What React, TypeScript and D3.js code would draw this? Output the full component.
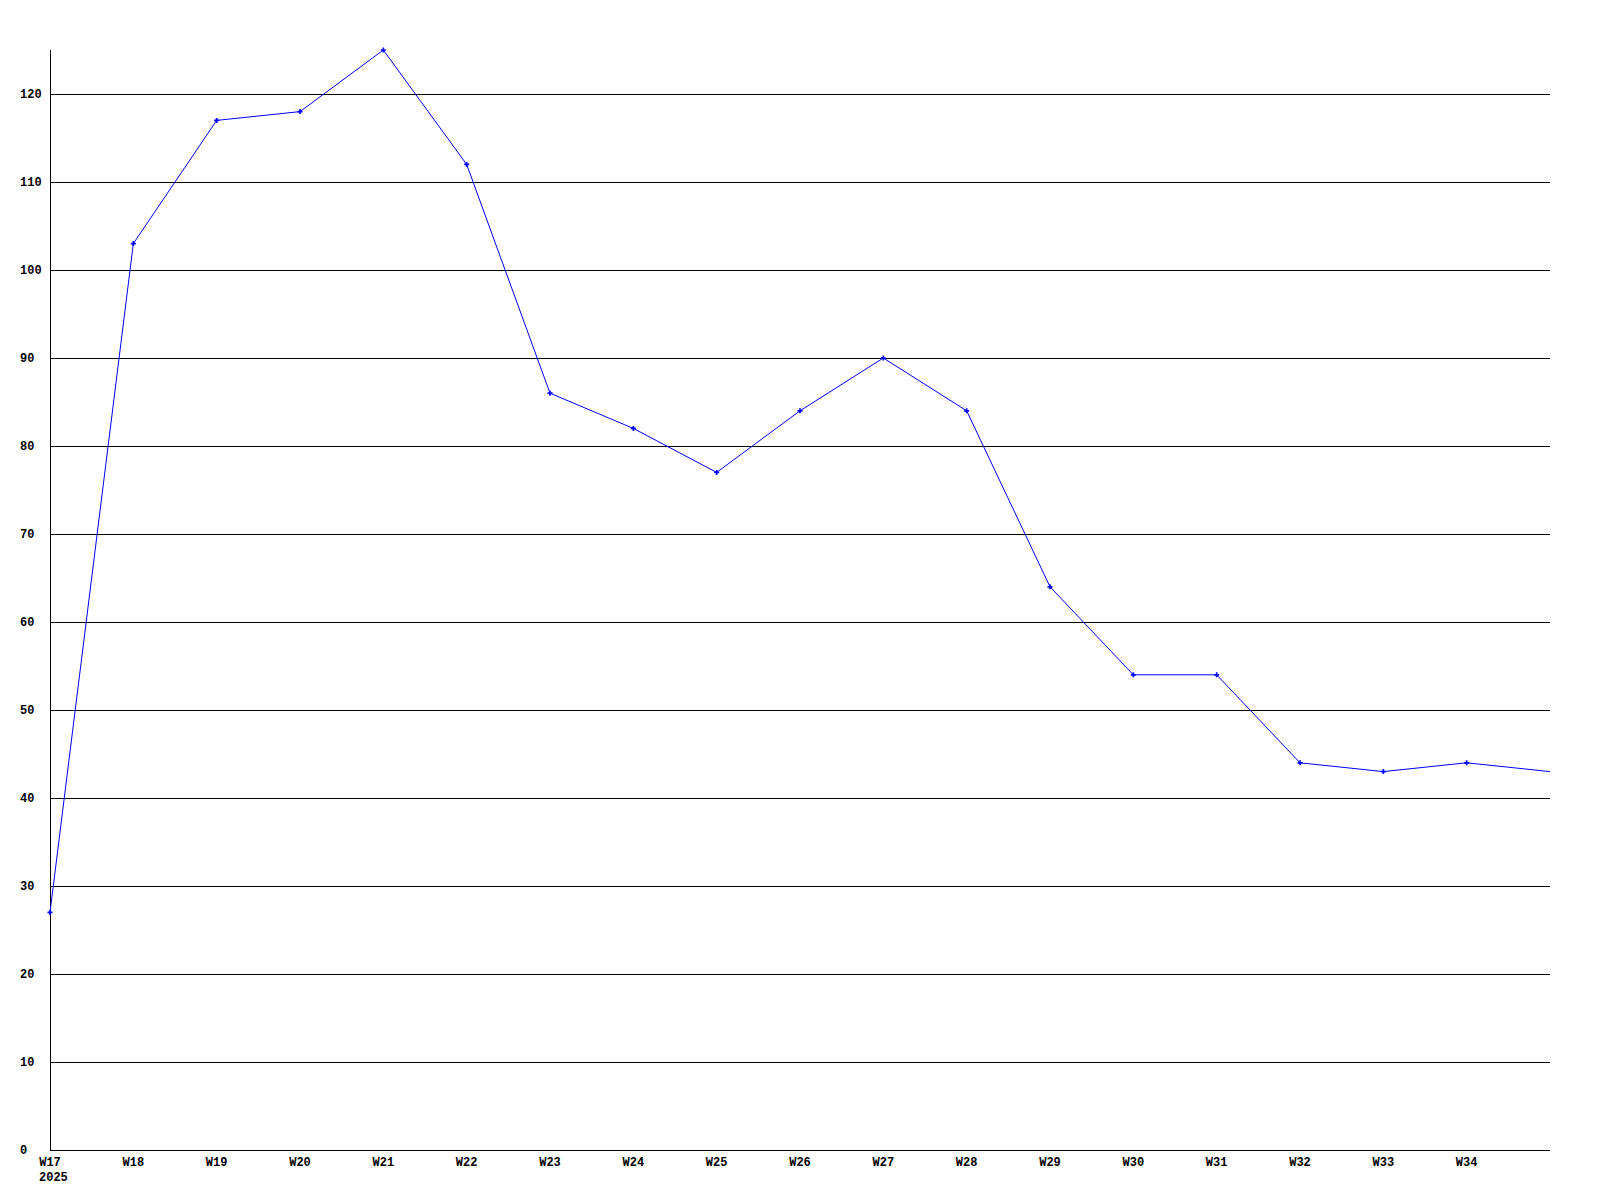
import React, { useRef, useEffect } from "react";
import * as d3 from "d3";

const weeks = [
  "W17", "W18", "W19", "W20", "W21", "W22", "W23", "W24", "W25", "W26",
  "W27", "W28", "W29", "W30", "W31", "W32", "W33", "W34", "W35",
];
const tickWeeks = weeks.slice(0, 18);
const values = [27, 103, 117, 118, 125, 112, 86, 82, 77, 84, 90, 84, 64, 54, 54, 44, 43, 44, 43];
const yTicks = [0, 10, 20, 30, 40, 50, 60, 70, 80, 90, 100, 110, 120];
const yearLabel = "2025";

const App = () => {
  const ref = useRef<SVGSVGElement>(null);

  useEffect(() => {
    const svg = d3.select(ref.current);
    svg.selectAll("*").remove();

    const margin = { top: 50, right: 50, bottom: 50, left: 50 },
      width = 1600 - margin.left - margin.right,
      height = 1200 - margin.top - margin.bottom;

    const x = d3.scalePoint<string>().domain(weeks).range([margin.left, margin.left + width]);
    const y = d3.scaleLinear().domain([0, 125]).range([margin.top + height, margin.top]);

    const font = "'Liberation Mono', 'DejaVu Sans Mono', monospace";

    // grid lines
    svg
      .append("g")
      .selectAll("line")
      .data(yTicks)
      .join("line")
      .attr("x1", margin.left)
      .attr("x2", margin.left + width)
      .attr("y1", (d) => Math.round(y(d)) + 0.5)
      .attr("y2", (d) => Math.round(y(d)) + 0.5)
      .attr("stroke", "#000")
      .attr("stroke-width", 1);

    // y axis line
    svg
      .append("line")
      .attr("x1", margin.left + 0.5)
      .attr("x2", margin.left + 0.5)
      .attr("y1", margin.top)
      .attr("y2", margin.top + height + 1)
      .attr("stroke", "#000");

    // y labels
    svg
      .append("g")
      .selectAll("text")
      .data(yTicks)
      .join("text")
      .attr("x", 20)
      .attr("y", (d) => Math.round(y(d)) + 4)
      .attr("font-family", font)
      .attr("font-weight", "bold")
      .attr("font-size", 12)
      .attr("fill", "#000")
      .text((d) => d);

    // x labels
    svg
      .append("g")
      .selectAll("text")
      .data(tickWeeks)
      .join("text")
      .attr("x", (d) => x(d)!)
      .attr("y", margin.top + height + 16)
      .attr("text-anchor", "middle")
      .attr("font-family", font)
      .attr("font-weight", "bold")
      .attr("font-size", 12)
      .attr("fill", "#000")
      .text((d) => d);

    svg
      .append("text")
      .attr("x", x(weeks[0])! - 11)
      .attr("y", margin.top + height + 31)
      .attr("font-family", font)
      .attr("font-weight", "bold")
      .attr("font-size", 12)
      .attr("fill", "#000")
      .text(yearLabel);

    // line
    const line = d3
      .line<number>()
      .x((_, i) => x(weeks[i])!)
      .y((d) => y(d));

    svg
      .append("path")
      .datum(values)
      .attr("fill", "none")
      .attr("stroke", "#0000ff")
      .attr("stroke-width", 1)
      .attr("d", line);

    // markers
    svg
      .append("g")
      .selectAll("path")
      .data(values.slice(0, values.length - 1))
      .join("path")
      .attr("transform", (d, i) => `translate(${x(weeks[i])},${y(d)})`)
      .attr("d", d3.symbol().type(d3.symbolCross).size(14)())
      .attr("fill", "#0000ff");
  }, []);

  return (
    <svg
      ref={ref}
      width={1600}
      height={1200}
      style={{ position: "absolute", left: 0, top: 0, background: "#fff" }}
    />
  );
};

export default App;
